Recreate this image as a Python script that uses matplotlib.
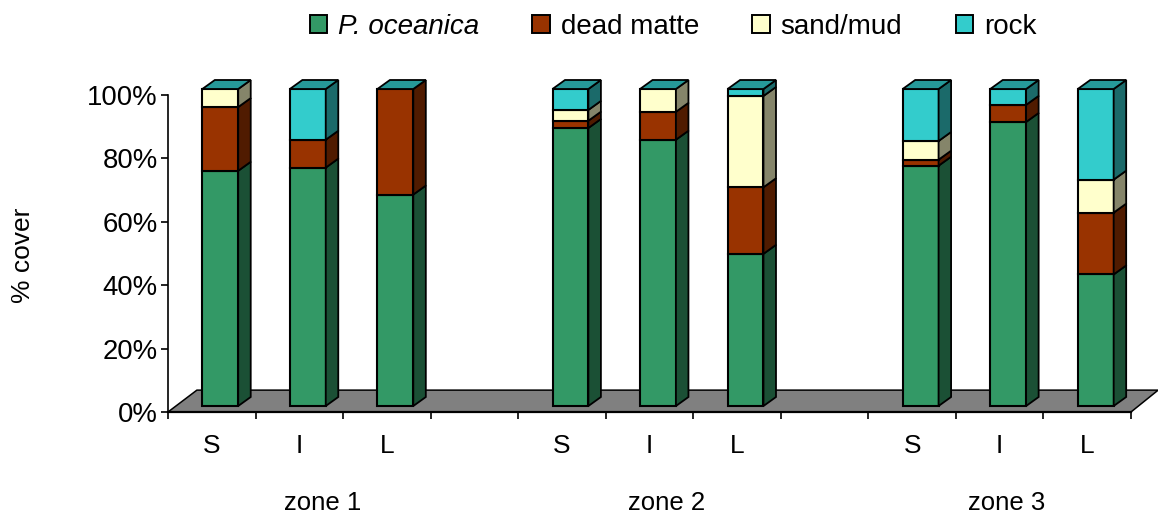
import matplotlib
matplotlib.use('Agg')
import matplotlib.pyplot as plt
from matplotlib.patches import Patch
from matplotlib.transforms import Affine2D
import matplotlib.colors as mcolors
import numpy as np

plt.rcParams['font.family'] = ['Liberation Sans', 'DejaVu Sans']

# Values, % cover per site
sites = ['S', 'I', 'L', 'S', 'I', 'L', 'S', 'I', 'L']
slots = [0, 1, 2, 4, 5, 6, 8, 9, 10]
zones = ['zone 1', 'zone 2', 'zone 3']
zone_x = [1.77, 5.69, 9.58]
seagrass = [74.2, 75.2, 66.7, 87.7, 84.0, 48.0, 75.8, 89.6, 41.5]
dead_matte = [20.1, 8.8, 33.3, 2.3, 8.8, 21.0, 1.9, 5.4, 19.5]
sand_mud = [5.7, 0.0, 0.0, 3.4, 7.2, 28.8, 5.9, 0.0, 10.4]
rock = [0.0, 16.0, 0.0, 6.6, 0.0, 2.2, 16.4, 5.0, 28.6]

series = [seagrass, dead_matte, sand_mud, rock]
names = ['P. oceanica', 'dead matte', 'sand/mud', 'rock']
colors = ['#339966', '#993300', '#FFFFCC', '#33CCCC']

fig = plt.figure(figsize=(11.58, 5.14), dpi=100)
ax = fig.add_axes([168 / 1158, 102 / 514, 963 / 1158, 317 / 514])
ax.set_xlim(0, 11)
ax.set_ylim(0, 100)


def shade(color, k):
    return tuple(c * k for c in mcolors.to_rgb(color))


# grey floor of the 3D box
ax.fill([0, 0.33, 11.31, 11], [0, 6.9, 6.9, 0], facecolor='#808080',
        edgecolor='black', lw=1.1, clip_on=False, zorder=1)

# every bar is shifted from its slot, the sides go back by depth_x, depth_y
shift = Affine2D().translate(8.5, 6)
front = ax.transData + shift
width = 0.41
depth_x = 12.5 / (963 / 11)
depth_y = 9 / 3.17

for i, slot in enumerate(slots):
    x0 = slot + 0.5 - width / 2
    x1 = x0 + width
    bottom = 0
    z = 3 + i
    for vals, color in zip(series, colors):
        v = vals[i]
        if v <= 0:
            continue
        ax.bar(x0, v, width, bottom=bottom, align='edge', color=color, edgecolor='black',
               lw=1.5, transform=front, clip_on=False, zorder=z)
        ax.fill([x1, x1 + depth_x, x1 + depth_x, x1],
                [bottom, bottom + depth_y, bottom + v + depth_y, bottom + v],
                facecolor=shade(color, 0.52), edgecolor='black', lw=1.3,
                transform=front, clip_on=False, zorder=z)
        bottom += v
    # the lid always has the dark rock colour
    ax.fill([x0, x0 + depth_x, x1 + depth_x, x1],
            [bottom, bottom + depth_y, bottom + depth_y, bottom],
            facecolor=shade(colors[3], 0.75), edgecolor='black', lw=1.3,
            transform=front, clip_on=False, zorder=z)

ax.spines['top'].set_visible(False)
ax.spines['right'].set_visible(False)
ax.spines['left'].set_linewidth(1.2)
ax.spines['bottom'].set_linewidth(1.6)
ax.spines['bottom'].set_zorder(2)

ax.set_yticks(range(0, 101, 20))
ax.set_yticklabels([f'{v}%' for v in range(0, 101, 20)])
ax.tick_params(axis='y', labelsize=19.8, length=5, width=1.2, pad=2.3)

ax.set_xticks(np.arange(0, 12))
ax.set_xticklabels([])
ax.tick_params(axis='x', length=5, width=1.2)
ax.set_xticks([s + 0.5 for s in slots], minor=True)
ax.set_xticklabels(sites, minor=True)
ax.tick_params(axis='x', which='minor', length=0, labelsize=19, pad=15.5)

for name, x in zip(zones, zone_x):
    ax.text(x, -28.6, name, fontsize=18.5, ha='center', va='center')

fig.text(23 / 1158, 1 - 255 / 514, '% cover', rotation=90, fontsize=19, ha='center', va='center')

handles = [Patch(facecolor=c, edgecolor='black', lw=1.4) for c in colors]
leg = fig.legend(handles, names, ncol=4, loc='center', bbox_to_anchor=(673 / 1158, 1 - 27 / 514),
                 frameon=False, fontsize=20, handlelength=0.62, handleheight=0.62,
                 handletextpad=0.4, columnspacing=1.92, borderpad=0)
leg.get_texts()[0].set_style('italic')

fig.savefig('out.png', dpi=100)
